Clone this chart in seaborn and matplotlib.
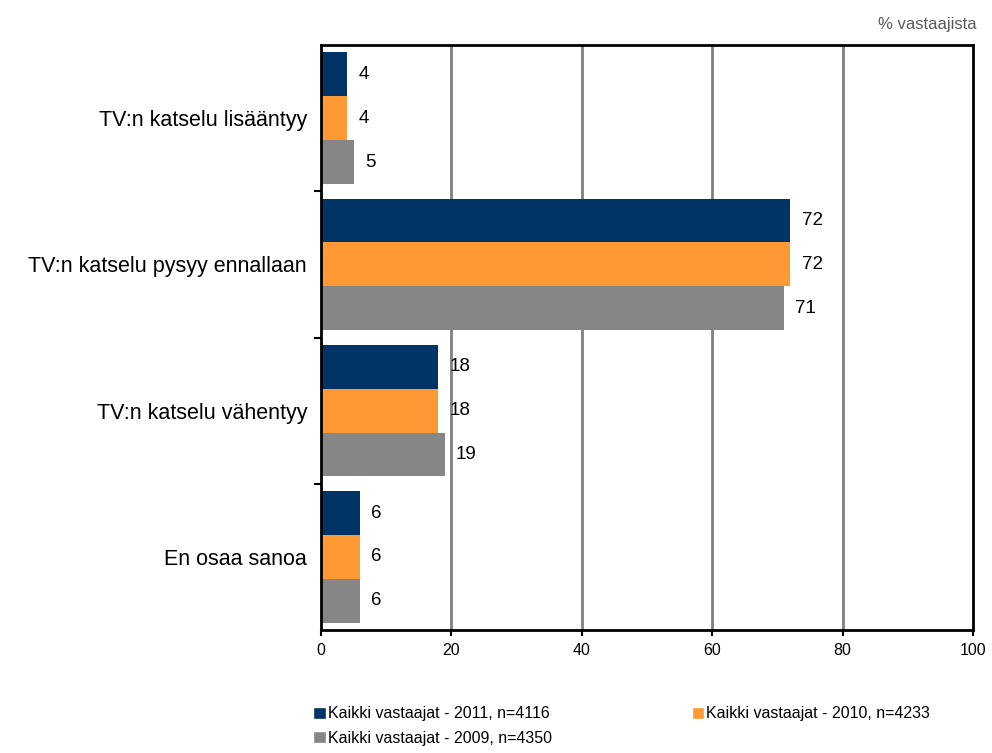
import pandas as pd
import numpy as np
import seaborn as sns
import matplotlib.pyplot as plt
from matplotlib.patches import Patch

# Dados
categorias = ['TV:n katselu lisääntyy', 'TV:n katselu pysyy ennallaan',
              'TV:n katselu vähentyy', 'En osaa sanoa']
series = ['Kaikki vastaajat - 2011, n=4116', 'Kaikki vastaajat - 2010, n=4233',
          'Kaikki vastaajat - 2009, n=4350']
v2011 = [4, 72, 18, 6]
v2010 = [4, 72, 18, 6]
v2009 = [5, 71, 19, 6]
cores = ['#003366', '#FF9933', '#868686']

df = pd.DataFrame({
    'categoria': categorias * 3,
    'serie': [series[0]] * 4 + [series[1]] * 4 + [series[2]] * 4,
    'valor': v2011 + v2010 + v2009,
})

sns.set_style('white')
plt.rcParams['font.family'] = ['Liberation Sans', 'DejaVu Sans']
plt.rcParams['text.color'] = 'black'
plt.rcParams['xtick.color'] = 'black'
plt.rcParams['ytick.color'] = 'black'

fig = plt.figure(figsize=(9.92, 7.53), dpi=100)
ax = fig.add_axes([0.3236, 0.1633, 0.6573, 0.7769])

sns.barplot(data=df, y='categoria', x='valor', hue='serie', order=categorias,
            hue_order=series, palette=cores, orient='h', width=0.9,
            saturation=1, linewidth=0, ax=ax, legend=False)

# Rótulos dos valores
for cont in ax.containers:
    ax.bar_label(cont, fmt='%d', padding=8, fontsize=13.5, color='black')

ax.set_xlim(0, 100)
ax.set_ylim(3.5, -0.5)
ax.set_xticks([0, 20, 40, 60, 80, 100])
ax.tick_params(axis='x', labelsize=11.5, length=4, width=1.5, direction='out', bottom=True, pad=5)
ax.set_yticks(range(4))
ax.set_yticklabels(categorias, fontsize=15.5)
ax.tick_params(axis='y', which='major', length=0, pad=10)
ax.set_yticks([0.5, 1.5, 2.5], minor=True)
ax.tick_params(axis='y', which='minor', length=5, width=1.5, left=True)
ax.set_xlabel('')
ax.set_ylabel('')

# Grade vertical
for xv in [20, 40, 60, 80]:
    ax.axvline(xv, color='#808080', linewidth=2, zorder=0)
ax.set_axisbelow(True)

for sp in ax.spines.values():
    sp.set_color('black')
    sp.set_linewidth(2)

fig.text(0.985, 0.958, '% vastaajista', ha='right', va='bottom', fontsize=12, color='#595959')

# Legenda
handles = [Patch(facecolor=c) for c in cores]
ordem = [0, 2, 1]
fig.legend([handles[i] for i in ordem], [series[i] for i in ordem],
           loc='upper left', bbox_to_anchor=(0.316, 0.062), ncol=2, frameon=False,
           fontsize=11.5, handlelength=0.8, handleheight=0.8, handletextpad=0.1,
           columnspacing=8.75, labelspacing=0.6, borderaxespad=0, borderpad=0)

plt.savefig('out.png', dpi=100)
